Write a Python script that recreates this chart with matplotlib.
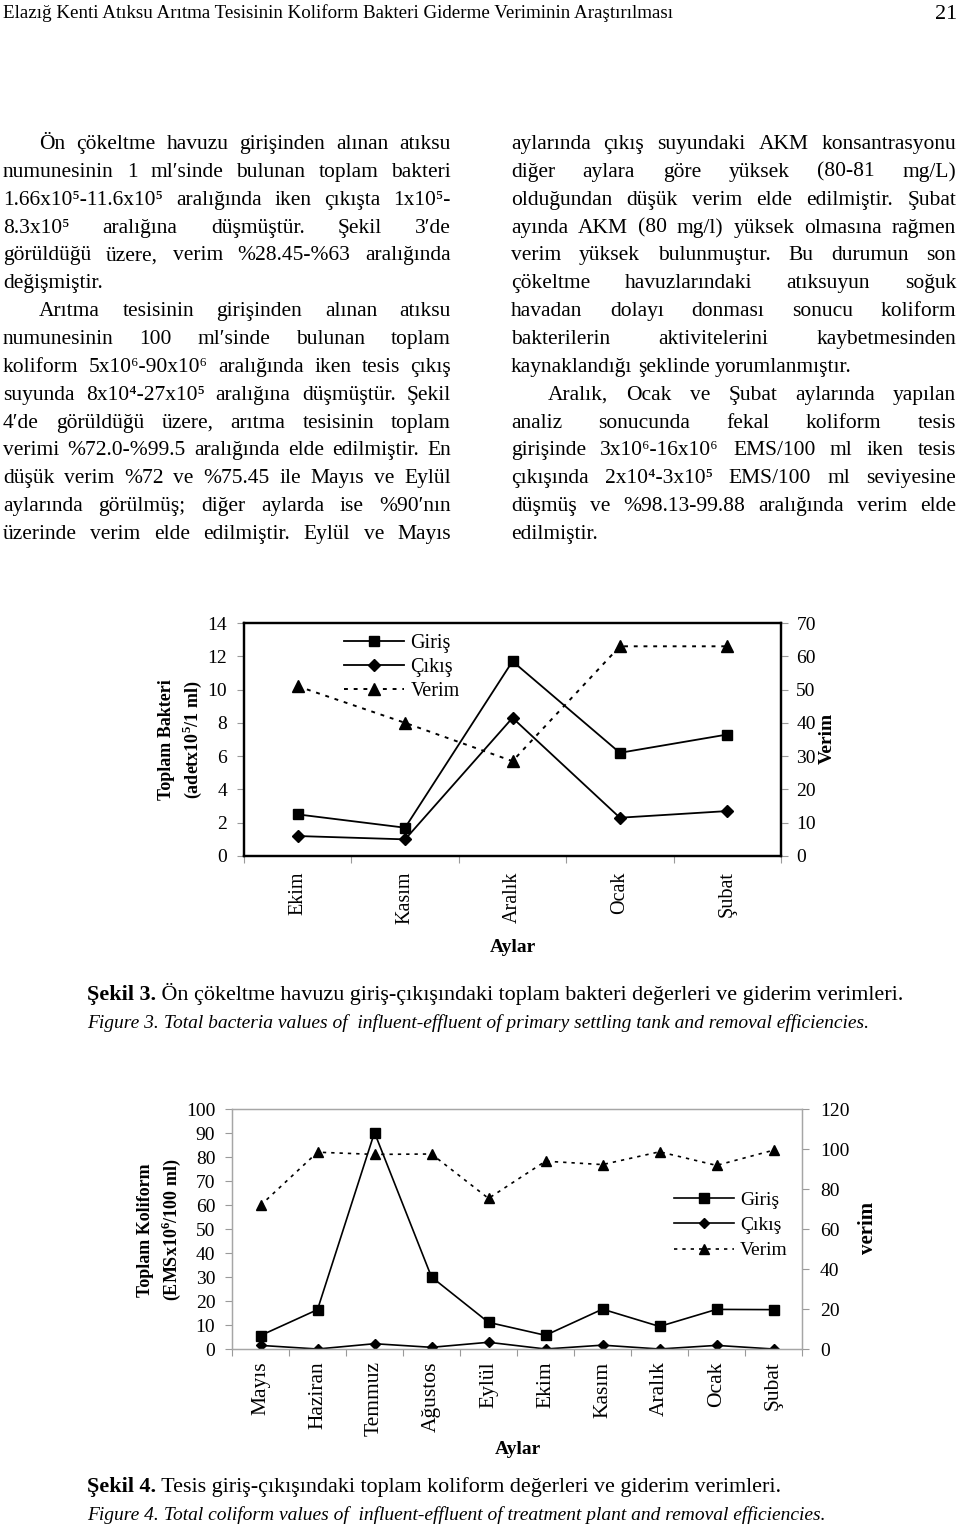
import numpy as np
import matplotlib
matplotlib.use("Agg")
import matplotlib.pyplot as plt

SERIF = ["Liberation Serif", "DejaVu Serif"]
plt.rcParams["font.family"] = SERIF
plt.rcParams["mathtext.fontset"] = "custom"
plt.rcParams["mathtext.rm"] = "Liberation Serif"
plt.rcParams["mathtext.bf"] = "Liberation Serif:bold"

# --- data: Şekil 3 (ön çökeltme havuzu) ---
months1 = ["Ekim", "Kasım", "Aralık", "Ocak", "Şubat"]
giris1 = [2.5, 1.7, 11.7, 6.2, 7.3]
cikis1 = [1.2, 1.0, 8.3, 2.3, 2.7]
verim1 = [51.0, 40.0, 28.5, 63.0, 63.0]

# --- data: Şekil 4 (tesis giriş-çıkış) ---
months2 = ["Mayıs", "Haziran", "Temmuz", "Ağustos", "Eylül",
           "Ekim", "Kasım", "Aralık", "Ocak", "Şubat"]
giris2 = [5.6, 16.4, 90.2, 30.0, 11.1, 5.7, 16.6, 9.4, 16.5, 16.4]
cikis2 = [1.5, 0.0, 2.2, 0.7, 2.8, 0.0, 1.6, 0.0, 1.5, 0.0]
verim2 = [71.8, 98.4, 97.3, 97.5, 75.3, 93.9, 92.2, 98.6, 91.8, 99.4]

# --- metin ---
left_col = [
    ("Ön çökeltme havuzu girişinden alınan atıksu", True, True),
    ("numunesinin 1 ml′sinde bulunan toplam bakteri", False, True),
    ("1.66x10⁵-11.6x10⁵ aralığında iken çıkışta 1x10⁵-", False, True),
    ("8.3x10⁵ aralığına düşmüştür. Şekil 3′de", False, True),
    ("görüldüğü üzere, verim %28.45-%63 aralığında", False, True),
    ("değişmiştir.", False, False),
    ("Arıtma tesisinin girişinden alınan atıksu", True, True),
    ("numunesinin 100 ml′sinde bulunan toplam", False, True),
    ("koliform 5x10⁶-90x10⁶ aralığında iken tesis çıkış", False, True),
    ("suyunda 8x10⁴-27x10⁵ aralığına düşmüştür. Şekil", False, True),
    ("4′de görüldüğü üzere, arıtma tesisinin toplam", False, True),
    ("verimi %72.0-%99.5 aralığında elde edilmiştir. En", False, True),
    ("düşük verim %72 ve %75.45 ile Mayıs ve Eylül", False, True),
    ("aylarında görülmüş; diğer aylarda ise %90′nın", False, True),
    ("üzerinde verim elde edilmiştir. Eylül ve Mayıs", False, True),
]
right_col = [
    ("aylarında çıkış suyundaki AKM konsantrasyonu", False, True),
    ("diğer aylara göre yüksek (80-81 mg/L)", False, True),
    ("olduğundan düşük verim elde edilmiştir. Şubat", False, True),
    ("ayında AKM (80 mg/l) yüksek olmasına rağmen", False, True),
    ("verim yüksek bulunmuştur. Bu durumun son", False, True),
    ("çökeltme havuzlarındaki atıksuyun soğuk", False, True),
    ("havadan dolayı donması sonucu koliform", False, True),
    ("bakterilerin aktivitelerini kaybetmesinden", False, True),
    ("kaynaklandığı şeklinde yorumlanmıştır.", False, False),
    ("Aralık, Ocak ve Şubat aylarında yapılan", True, True),
    ("analiz sonucunda fekal koliform tesis", False, True),
    ("girişinde 3x10⁶-16x10⁶ EMS/100 ml iken tesis", False, True),
    ("çıkışında 2x10⁴-3x10⁵ EMS/100 ml seviyesine", False, True),
    ("düşmüş ve %98.13-99.88 aralığında verim elde", False, True),
    ("edilmiştir.", False, False),
]

W, H = 960, 1531
fig = plt.figure(figsize=(9.6, 15.31), dpi=100)
renderer = fig.canvas.get_renderer()


def fx(x):
    return x / W


def fy(y):
    return 1 - y / H


def width_of(t):
    return t.get_window_extent(renderer).width


def fit_size(s, target, base=12, **kw):
    t = fig.text(0, 0, s, fontsize=base, **kw)
    w = width_of(t)
    t.remove()
    return base * target / w


def word_family(w):
    # üst simge rakamlar için yedek yazı tipi gerekebilir
    return SERIF if any(c in "⁴⁵⁶′" for c in w) else "Liberation Serif"


def put_line(line, x0, x1, y, size, justify):
    words = line.split(" ")
    objs = [fig.text(0, 0, w, fontsize=size, va="baseline", family=word_family(w))
            for w in words]
    widths = [width_of(t) for t in objs]
    if justify and len(words) > 1:
        gap = (x1 - x0 - sum(widths)) / (len(words) - 1)
    else:
        gap = size * 100 / 72 * 0.25
    x = x0
    for t, w in zip(objs, widths):
        t.set_position((fx(x), fy(y)))
        x += w + gap


def put_runs(runs, x, y, size):
    for s, kw in runs:
        t = fig.text(fx(x), fy(y), s, fontsize=size, va="baseline", **kw)
        x += width_of(t)


# başlık
header = "Elazığ Kenti Atıksu Arıtma Tesisinin Koliform Bakteri Giderme Veriminin Araştırılması"
fig.text(fx(3), fy(18), header, fontsize=fit_size(header, 669), va="baseline")
fig.text(fx(957), fy(19), "21", fontsize=16, va="baseline", ha="right")

# iki sütun metin
body = 15.5
for i, (line, indent, just) in enumerate(left_col):
    put_line(line, 39 if indent else 3, 451, 149 + 27.86 * i, body, just)
for i, (line, indent, just) in enumerate(right_col):
    put_line(line, 548 if indent else 511, 956, 149 + 27.86 * i, body, just)


def style_axes(ax, axr, spine_color, spine_w, ylab_pad, yr_pad, xlab_pad, xsize):
    for a in (ax, axr):
        for sp in a.spines.values():
            sp.set_color(spine_color)
            sp.set_linewidth(spine_w)
    ax.tick_params(axis="y", length=5, width=0.8, color="#9a9a9a", pad=ylab_pad, labelsize=14)
    axr.tick_params(axis="y", length=5, width=0.8, color="#9a9a9a", pad=yr_pad, labelsize=14)
    ax.tick_params(axis="x", which="major", length=5, width=0.8, color="#9a9a9a")
    ax.tick_params(axis="x", which="minor", length=0, pad=xlab_pad, labelsize=xsize)


def month_axis(ax, months):
    n = len(months)
    ax.set_xlim(-0.5, n - 0.5)
    ax.set_xticks(np.arange(n + 1) - 0.5, labels=[""] * (n + 1))
    ax.set_xticks(np.arange(n), labels=months, minor=True, rotation=90)


# ---------------- Şekil 3 ----------------
ax1 = fig.add_axes([fx(244), fy(856), (781 - 244) / W, (856 - 623) / H])
x1 = np.arange(len(months1))
ax1.plot(x1, giris1, color="black", lw=1.3, marker="s", ms=7.5, label="Giriş")
ax1.plot(x1, cikis1, color="black", lw=1.3, marker="D", ms=6.5, label="Çıkış")
ax1.set_ylim(0, 14)
ax1.set_yticks(range(0, 15, 2))
month_axis(ax1, months1)
ax1r = ax1.twinx()
ax1r.plot(x1, verim1, color="black", lw=1.4, ls=(0, (2, 3)), marker="^", ms=8.5, label="Verim")
ax1r.set_ylim(0, 70)
ax1r.set_yticks(range(0, 71, 10))
style_axes(ax1, ax1r, "black", 1.6, 7, 6, 11, 14.5)

h1, l1 = ax1.get_legend_handles_labels()
h2, l2 = ax1r.get_legend_handles_labels()
ax1r.legend(h1 + h2, l1 + l2, loc="upper left", bbox_to_anchor=(fx(344), fy(634)),
            bbox_transform=fig.transFigure, frameon=False, fontsize=14.5,
            handlelength=3.0, handletextpad=0.3, labelspacing=0.25,
            borderpad=0, borderaxespad=0)

fig.text(fx(181), fy(740), "Toplam Bakteri\n(adetx10$^{\\mathbf{5}}$/1 ml)", rotation=90,
         ha="center", va="center", fontsize=13, fontweight="bold", linespacing=1.35)
fig.text(fx(827), fy(738), "Verim", rotation=90, ha="center", va="center",
         fontsize=14, fontweight="bold")
fig.text(fx(513), fy(948), "Aylar", ha="center", va="center", fontsize=14, fontweight="bold")

cap1 = " Ön çökeltme havuzu giriş-çıkışındaki toplam bakteri değerleri ve giderim verimleri."
cap_size = fit_size("Şekil 3." + cap1, 816)
put_runs([("Şekil 3.", {"fontweight": "bold"}), (cap1, {})], 87, 1000, cap_size)
cap1e = " Total bacteria values of  influent-effluent of primary settling tank and removal efficiencies."
capi_size = min(14, fit_size("Figure 3." + cap1e, 810, fontstyle="italic"))
put_runs([("Figure 3.", {"fontstyle": "italic"}), (cap1e, {"fontstyle": "italic"})], 87, 1028,
         capi_size)

# ---------------- Şekil 4 ----------------
ax2 = fig.add_axes([fx(232), fy(1349), (802 - 232) / W, (1349 - 1109) / H])
x2 = np.arange(len(months2))
ax2.plot(x2, giris2, color="black", lw=1.2, marker="s", ms=6.5, label="Giriş")
ax2.plot(x2, cikis2, color="black", lw=1.2, marker="D", ms=5.5, label="Çıkış")
ax2.set_ylim(0, 100)
ax2.set_yticks(range(0, 101, 10))
month_axis(ax2, months2)
ax2r = ax2.twinx()
ax2r.plot(x2, verim2, color="black", lw=1.2, ls=(0, (2, 3)), marker="^", ms=7.5, label="Verim")
ax2r.set_ylim(0, 120)
ax2r.set_yticks(range(0, 121, 20))
style_axes(ax2, ax2r, "#a6a6a6", 0.9, 7, 8, 9, 15.5)

h1, l1 = ax2.get_legend_handles_labels()
h2, l2 = ax2r.get_legend_handles_labels()
ax2r.legend(h1 + h2, l1 + l2, loc="upper left", bbox_to_anchor=(fx(674), fy(1191)),
            bbox_transform=fig.transFigure, frameon=False, fontsize=14,
            handlelength=3.1, handletextpad=0.3, labelspacing=0.4,
            borderpad=0, borderaxespad=0)

fig.text(fx(160), fy(1230), "Toplam Koliform\n(EMSx10$^{\\mathbf{6}}$/100 ml)", rotation=90,
         ha="center", va="center", fontsize=13, fontweight="bold", linespacing=1.35)
fig.text(fx(868), fy(1228), "verim", rotation=90, ha="center", va="center",
         fontsize=15, fontweight="bold")
fig.text(fx(518), fy(1450), "Aylar", ha="center", va="center", fontsize=14, fontweight="bold")

cap2 = " Tesis giriş-çıkışındaki toplam koliform değerleri ve giderim verimleri."
put_runs([("Şekil 4.", {"fontweight": "bold"}), (cap2, {})], 87, 1492, cap_size)
cap2e = " Total coliform values of  influent-effluent of treatment plant and removal efficiencies."
put_runs([("Figure 4.", {"fontstyle": "italic"}), (cap2e, {"fontstyle": "italic"})], 87, 1520,
         capi_size)

fig.savefig("out.png", dpi=100)
